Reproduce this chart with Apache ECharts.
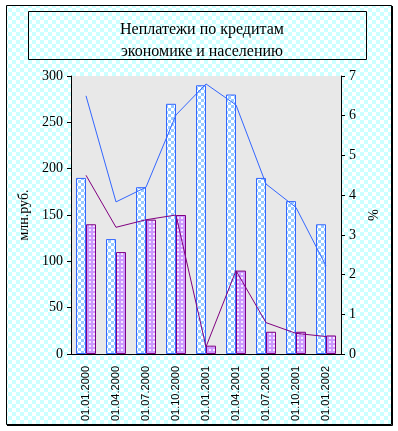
<!DOCTYPE html>
<html>
<head>
<meta charset="utf-8">
<script src="https://cdn.jsdelivr.net/npm/echarts@6/dist/echarts.min.js"></script>
<style>
  html, body { margin: 0; padding: 0; background: #fff; }
  #chart { width: 398px; height: 431px; }
</style>
</head>
<body>
<div id="chart"></div>
<script>
const categories = ['01.01.2000', '01.04.2000', '01.07.2000', '01.10.2000', '01.01.2001',
  '01.04.2001', '01.07.2001', '01.10.2001', '01.01.2002']
// bars, млн.руб. (left axis)
const debtEconomy = [190, 124, 180, 270, 290, 280, 190, 165, 140]
const debtPopulation = [140, 110, 145, 150, 9, 90, 24, 24, 20]
// lines, % (right axis)
const shareEconomy = [6.5, 3.83, 4.2, 6.02, 6.8, 6.27, 4.28, 3.69, 2.22]
const sharePopulation = [4.5, 3.19, 3.38, 3.5, 0.18, 2.1, 0.79, 0.52, 0.44]

function checker(size, c1, c2) {
  const cv = document.createElement('canvas')
  cv.width = size * 2
  cv.height = size * 2
  const ctx = cv.getContext('2d')
  ctx.fillStyle = c2
  ctx.fillRect(0, 0, size * 2, size * 2)
  ctx.fillStyle = c1
  ctx.fillRect(0, 0, size, size)
  ctx.fillRect(size, size, size, size)
  return cv
}

function dots() {
  const cv = document.createElement('canvas')
  cv.width = 4
  cv.height = 4
  const ctx = cv.getContext('2d')
  ctx.fillStyle = '#cc99ff'
  ctx.fillRect(0, 0, 4, 4)
  ctx.fillStyle = '#f4eaff'
  ctx.fillRect(1, 1, 2, 2)
  return cv
}

const bgPattern = { image: checker(4, '#ccffff', '#ffffff'), repeat: 'repeat' }
const bluePattern = { image: checker(3, '#99ccff', '#ffffff'), repeat: 'repeat' }
const purplePattern = { image: dots(), repeat: 'repeat' }

const serif = '"Liberation Serif", "Times New Roman", serif'

const myChart = echarts.init(document.getElementById('chart'))

const option = {
  animation: false,
  backgroundColor: '#fff',
  graphic: [
    {
      type: 'rect', z: -10, silent: true,
      shape: { x: 6.5, y: 5.5, width: 385, height: 419 },
      style: { fill: bgPattern, stroke: '#000', lineWidth: 1 }
    },
    {
      type: 'polyline', z: -9, silent: true,
      shape: { points: [[392.5, 6], [392.5, 425.5], [7, 425.5]] },
      style: { stroke: '#000', lineWidth: 1, fill: null }
    },
    {
      type: 'rect', z: -8, silent: true,
      shape: { x: 28.5, y: 11.5, width: 338, height: 48 },
      style: { fill: bgPattern, stroke: '#000', lineWidth: 1 }
    }
  ],
  title: {
    text: 'Неплатежи по кредитам\nэкономике и населению',
    left: 197,
    textAlign: 'center',
    top: 14,
    textStyle: {
      fontFamily: serif,
      fontSize: 16,
      fontWeight: 'normal',
      lineHeight: 22,
      color: '#000'
    }
  },
  grid: {
    left: 71,
    right: 57,
    top: 76,
    bottom: 77,
    show: true,
    backgroundColor: '#e8e8e8',
    borderWidth: 0
  },
  xAxis: {
    type: 'category',
    data: categories,
    axisLine: { lineStyle: { color: '#000', width: 1 } },
    axisTick: { length: 4, lineStyle: { color: '#000' } },
    axisLabel: {
      rotate: 90,
      margin: 12,
      fontFamily: '"Liberation Sans", Arial, sans-serif',
      fontSize: 11,
      color: '#000'
    }
  },
  yAxis: [
    {
      type: 'value',
      min: 0,
      max: 300,
      interval: 50,
      name: 'млн.руб.',
      nameLocation: 'middle',
      nameRotate: 90,
      nameGap: 30,
      nameTextStyle: { fontFamily: serif, fontSize: 14, color: '#000' },
      axisLine: { show: true, lineStyle: { color: '#000' } },
      axisTick: { show: true, length: 4, lineStyle: { color: '#000' } },
      axisLabel: { fontFamily: serif, fontSize: 14, color: '#000', margin: 8 },
      splitLine: { show: false }
    },
    {
      type: 'value',
      min: 0,
      max: 7,
      interval: 1,
      position: 'right',
      name: '%',
      nameLocation: 'middle',
      nameRotate: -90,
      nameGap: 24,
      nameMoveOverlap: false,
      nameTextStyle: { fontFamily: serif, fontSize: 14, color: '#000' },
      axisLine: { show: true, lineStyle: { color: '#000' } },
      axisTick: { show: true, length: 4, lineStyle: { color: '#000' } },
      axisLabel: { fontFamily: serif, fontSize: 14, color: '#000', margin: 8 },
      splitLine: { show: false }
    }
  ],
  series: [
    {
      name: 'Кредиты экономике',
      type: 'bar',
      data: debtEconomy,
      barWidth: 10,
      barGap: '0%',
      itemStyle: { color: bluePattern, borderColor: '#3366ff', borderWidth: 1 }
    },
    {
      name: 'Кредиты населению',
      type: 'bar',
      data: debtPopulation,
      barWidth: 10,
      barGap: '0%',
      itemStyle: { color: purplePattern, borderColor: '#800080', borderWidth: 1 }
    },
    {
      name: 'Кредиты экономике, %',
      type: 'line',
      yAxisIndex: 1,
      data: shareEconomy,
      symbol: 'none',
      lineStyle: { color: '#3366ff', width: 1 },
      z: 5
    },
    {
      name: 'Кредиты населению, %',
      type: 'line',
      yAxisIndex: 1,
      data: sharePopulation,
      symbol: 'none',
      lineStyle: { color: '#800080', width: 1 },
      z: 5
    }
  ]
}

myChart.setOption(option)
</script>
</body>
</html>
